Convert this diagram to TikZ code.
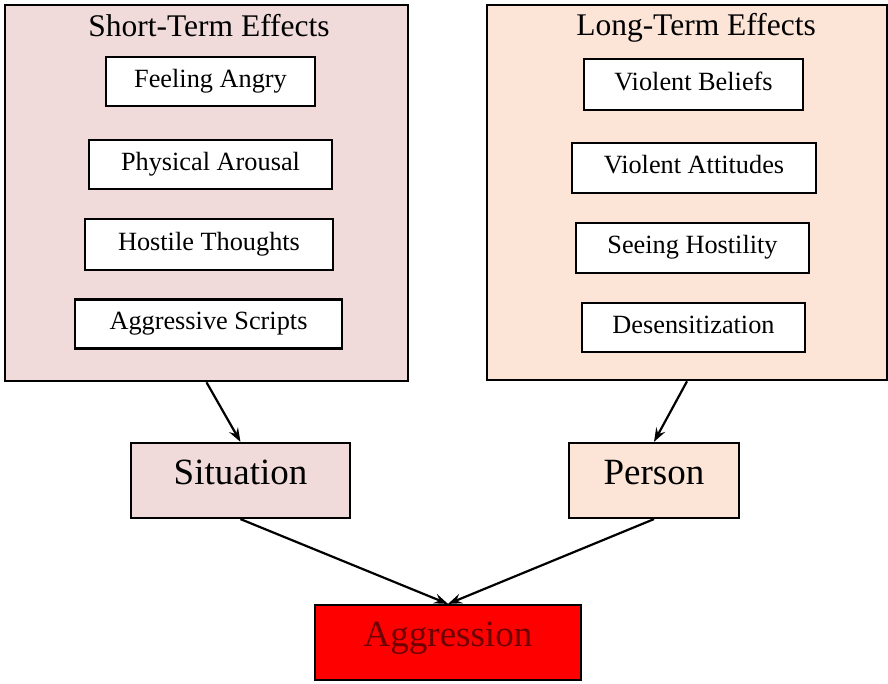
\documentclass[tikz,border=0pt]{standalone}
\usepackage{fontspec}
\setmainfont{Liberation Serif}
\usetikzlibrary{arrows.meta}

\definecolor{shortfill}{RGB}{240,218,218}
\definecolor{longfill}{RGB}{252,229,214}
\definecolor{aggfill}{RGB}{255,0,0}
\definecolor{aggtext}{RGB}{110,0,0}

\tikzset{
  panel/.style={draw=black, line width=2.6pt, rectangle, inner sep=0pt},
  paneltitle/.style={font=\fontsize{31.5}{36}\selectfont, anchor=base, inner sep=0pt},
  effect/.style={draw=black, line width=2.2pt, fill=white, rectangle, inner sep=0pt,
    minimum height=49pt, text height=18pt, text depth=7pt,
    font=\fontsize{26.3}{30}\selectfont},
  outcome/.style={draw=black, line width=2.2pt, rectangle, inner sep=0pt,
    minimum height=75pt, text height=25pt, text depth=18pt,
    font=\fontsize{37}{42}\selectfont},
  link/.style={-{Stealth[length=14pt,width=10pt,inset=5pt]}, line width=2.2pt, black}
}

\begin{document}
\begin{tikzpicture}[x=1pt,y=-1pt]
  \useasboundingbox (0,0) rectangle (888,683);
  \fill[white] (0,0) rectangle (888,683);

  % the two groups of effects
  \node[panel, fill=shortfill, minimum width=403pt, minimum height=376pt] (short) at (206.5,193) {};
  \node[panel, fill=longfill, minimum width=400pt, minimum height=375pt] (long) at (687,192.5) {};

  \node[paneltitle] (shorttitle) at (209,36) {Short-Term Effects};
  \node[paneltitle] (longtitle) at (696,35) {Long-Term Effects};

  % short-term items
  \node[effect, minimum width=209pt] (angry) at (210.5,81.5) {Feeling Angry};
  \node[effect, minimum width=243pt] (arousal) at (210.5,164.5) {Physical Arousal};
  \node[effect, minimum width=248pt, minimum height=51pt] (thoughts) at (209,244.5) {Hostile Thoughts};
  \node[effect, minimum width=267pt] (scripts) at (208.5,324) {Aggressive Scripts};

  % long-term items
  \node[effect, minimum width=219pt, minimum height=51pt] (beliefs) at (693.5,84.5) {Violent Beliefs};
  \node[effect, minimum width=244pt, minimum height=50pt] (attitudes) at (694,168) {Violent Attitudes};
  \node[effect, minimum width=233pt, minimum height=50pt] (hostility) at (692.5,248) {Seeing Hostility};
  \node[effect, minimum width=223pt] (desens) at (693.5,327.5) {Desensitization};

  % outcome chain
  \node[outcome, fill=shortfill, minimum width=219pt] (situation) at (240.5,480.5) {Situation};
  \node[outcome, fill=longfill, minimum width=170pt] (person) at (654,480.5) {Person};
  \node[outcome, fill=aggfill, text=aggtext, minimum width=266pt] (aggression) at (448,642.5) {Aggression};

  % connectors
  \draw[link] (short.south) -- (situation.north);
  \draw[link] (long.south) -- (person.north);
  \draw[link] (situation.south) -- (aggression.north);
  \draw[link] (person.south) -- (aggression.north);
\end{tikzpicture}
\end{document}
